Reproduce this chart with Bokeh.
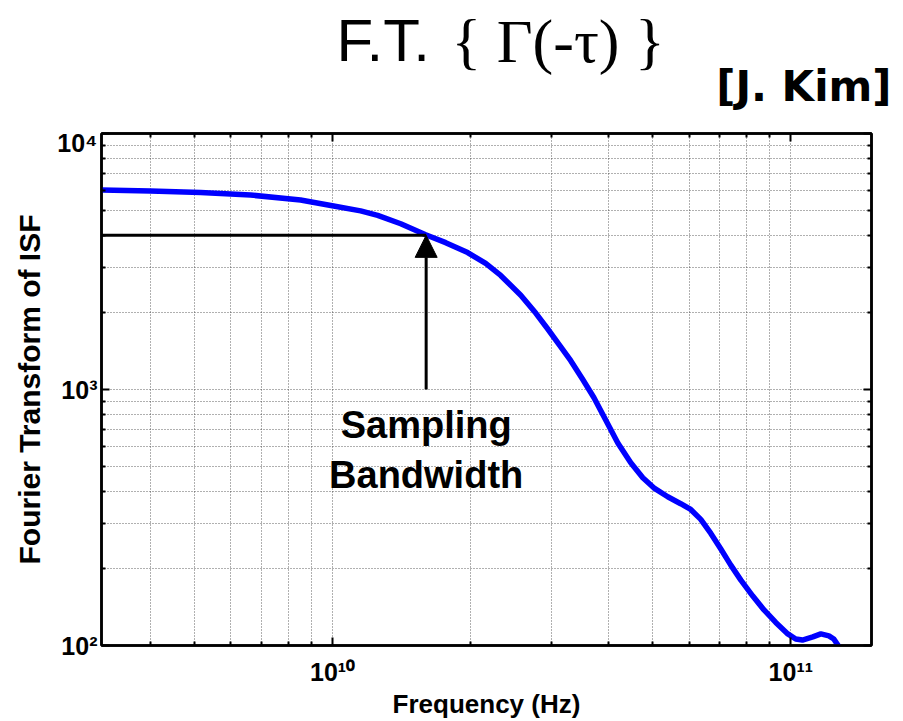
from bokeh.plotting import figure
from bokeh.layouts import column, row
from bokeh.models import (Range1d, LogAxis, FixedTicker, Label, Arrow, NormalHead,
                          CustomJSTickFormatter, ColumnDataSource)
from bokeh.embed import file_html
from bokeh.resources import INLINE

# Fourier transform of the impulse sensitivity function
freq_hz = [3.13e9, 4.0e9, 5.15e9, 6.62e9, 8.51e9, 1.005e10, 1.151e10, 1.254e10, 1.408e10,
           1.596e10, 1.765e10, 1.971e10, 2.158e10, 2.327e10, 2.574e10, 2.775e10, 2.948e10,
           3.147e10, 3.309e10, 3.515e10, 3.716e10, 3.947e10, 4.192e10, 4.474e10, 4.753e10,
           5.022e10, 5.387e10, 5.75e10, 6.047e10, 6.36e10, 6.69e10, 7.035e10, 7.396e10,
           7.78e10, 8.26e10, 8.73e10, 9.27e10, 9.85e10, 1.025e11, 1.06e11, 1.117e11,
           1.163e11, 1.211e11, 1.241e11, 1.273e11]
isf_ft = [6010, 5960, 5880, 5750, 5500, 5210, 4985, 4790, 4440,
          4024, 3746, 3427, 3107, 2790, 2335, 1988, 1723,
          1468, 1296, 1094, 931, 758, 618, 517, 452,
          413, 381, 358, 340, 311, 274, 238, 206,
          180, 156, 138, 123, 111, 106, 105, 108,
          111, 109, 106, 99]

# sampling bandwidth marker
bandwidth_hz = 1.6e10
bandwidth_level = 4.0e3
arrow_base = 1.0e3

x_lim = [3.13e9, 1.5e11]
y_lim = [1e2, 1e4]
x_major = [1e10, 1e11]
y_major = [1e2, 1e3, 1e4]
x_minor = [m * 10.0 ** k for k in (9, 10, 11) for m in range(2, 10)]
y_minor = [m * 10.0 ** k for k in (2, 3) for m in range(2, 10)]

FONT = "Liberation Sans"
W = 903
HEAD_H = 128
LEFT, RIGHT = 101, 32

# ---- heading strip: data units are canvas pixels (x right, y down) ----
head = figure(width=W, height=HEAD_H, x_range=Range1d(0, W), y_range=Range1d(HEAD_H, 0),
              output_backend="svg", toolbar_location=None,
              x_axis_location=None, y_axis_location=None, min_border=0,
              min_border_left=0, min_border_right=0, min_border_top=0, min_border_bottom=0)
head.outline_line_color = None
head.grid.visible = False
head.background_fill_color = "white"
head.border_fill_color = "white"
head.add_layout(Label(x=336, y=40, text="F.T.", text_align="left", text_baseline="alphabetic",
                      text_font=FONT, text_font_size="60px", text_color="black"))
head.add_layout(Label(x=451, y=40, text="{ \u0393(-\u03c4) }", text_align="left",
                      text_baseline="alphabetic", text_font="Liberation Serif",
                      text_font_size="62px", text_color="black"))
head.add_layout(Label(x=891, y=86, text="[J. Kim]", text_align="right",
                      text_baseline="alphabetic", text_font="DejaVu Sans",
                      text_font_style="bold", text_font_size="42px", text_color="black"))

# ---- main log-log chart ----
p = figure(width=W, height=721 - HEAD_H, x_axis_type="log", y_axis_type="log",
           x_range=Range1d(*x_lim), y_range=Range1d(*y_lim),
           output_backend="svg", toolbar_location=None,
           min_border_left=LEFT, min_border_right=RIGHT,
           min_border_top=5, min_border_bottom=72)
p.background_fill_color = "white"
p.border_fill_color = "white"
p.outline_line_color = "black"
p.outline_line_width = 2.5

fmt = CustomJSTickFormatter(code="""
const sup = {"0":"\u2070","1":"\u00b9","2":"\u00b2","3":"\u00b3","4":"\u2074",
             "5":"\u2075","6":"\u2076","7":"\u2077","8":"\u2078","9":"\u2079","-":"\u207b"};
const e = Math.round(Math.log10(tick));
return "10" + String(e).split("").map(c => sup[c]).join("");
""")

xt = FixedTicker(ticks=x_major, minor_ticks=x_minor)
yt = FixedTicker(ticks=y_major, minor_ticks=y_minor)


def style_axis(ax, labels=True):
    ax.axis_line_color = "black"
    ax.axis_line_width = 2.5
    ax.major_tick_line_color = "black"
    ax.major_tick_line_width = 2
    ax.minor_tick_line_color = "black"
    ax.minor_tick_line_width = 2
    ax.major_tick_in = 8
    ax.major_tick_out = 0
    ax.minor_tick_in = 4
    ax.minor_tick_out = 0
    if labels:
        ax.formatter = fmt
        ax.major_label_text_font = FONT
        ax.major_label_text_font_size = "25px"
        ax.major_label_text_font_style = "bold"
        ax.major_label_text_color = "black"
        ax.axis_label_text_font = FONT
        ax.axis_label_text_font_style = "bold"
        ax.axis_label_text_color = "black"
    else:
        ax.major_label_text_font_size = "1px"
        ax.major_label_text_alpha = 0
        ax.major_label_standoff = 0


p.xaxis.ticker = xt
p.yaxis.ticker = yt
style_axis(p.xaxis[0])
style_axis(p.yaxis[0])
p.xaxis.axis_label = "Frequency (Hz)"
p.xaxis.axis_label_text_font_size = "26px"
p.xaxis.major_label_standoff = 12
p.xaxis.axis_label_standoff = 0
p.yaxis.axis_label = "Fourier Transform of ISF"
p.yaxis.axis_label_text_font_size = "30px"
p.yaxis.major_label_standoff = 4
p.yaxis.axis_label_standoff = 8
p.yaxis.major_label_orientation = "horizontal"

top_ax = LogAxis(ticker=xt)
style_axis(top_ax, labels=False)
p.add_layout(top_ax, "above")
right_ax = LogAxis(ticker=yt)
style_axis(right_ax, labels=False)
p.add_layout(right_ax, "right")

for g in (p.xgrid[0], p.ygrid[0]):
    g.grid_line_color = "#3a3a3a"
    g.grid_line_alpha = 0.8
    g.grid_line_dash = "1 2"
    g.grid_line_width = 1
    g.minor_grid_line_color = "#3a3a3a"
    g.minor_grid_line_alpha = 0.8
    g.minor_grid_line_dash = "1 2"
    g.minor_grid_line_width = 1

src = ColumnDataSource(data=dict(f=freq_hz, v=isf_ft))
p.line("f", "v", source=src, line_color="#0000ff", line_width=5.5, line_join="round")

# horizontal level up to the bandwidth point
p.segment(x0=[x_lim[0]], y0=[bandwidth_level], x1=[bandwidth_hz], y1=[bandwidth_level],
          line_color="black", line_width=3)
p.add_layout(Arrow(end=NormalHead(size=22, fill_color="black", line_color="black"),
                   x_start=bandwidth_hz, y_start=arrow_base,
                   x_end=bandwidth_hz, y_end=bandwidth_level,
                   line_color="black", line_width=3))

for txt, ys in (("Sampling", 221), ("Bandwidth", 171)):
    p.add_layout(Label(x=bandwidth_hz, y=ys, x_units="data", y_units="screen", text=txt,
                       text_align="center", text_baseline="alphabetic",
                       text_font=FONT, text_font_style="bold", text_font_size="38px",
                       text_color="black"))

open("out.html", "w").write(file_html(column(row(head), p, spacing=0), INLINE))
